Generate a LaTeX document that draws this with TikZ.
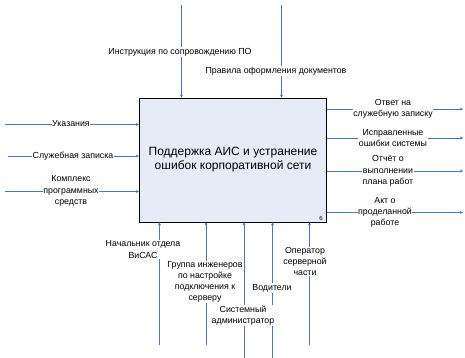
\documentclass[tikz,border=0pt]{standalone}
\usepackage{fontspec}
\setmainfont{Liberation Sans}
\usetikzlibrary{arrows.meta}
\definecolor{arrowblue}{HTML}{4A76C0}
\definecolor{boxfill}{HTML}{E6ECF7}
\begin{document}
\begin{tikzpicture}[x=1pt,y=-1pt,
  conn/.style={draw=arrowblue,line width=0.7pt,-{Stealth[length=3pt,width=3pt]}},
  lbl/.style={fill=white,inner sep=0.6pt,align=center,font=\fontsize{8.8}{11.2}\selectfont},
  mainbox/.style={draw=black,fill=boxfill,line width=0.8pt,minimum width=187.5pt,minimum height=124pt,align=center,inner sep=0pt,font=\fontsize{12}{14}\selectfont}]
\useasboundingbox (0,0) rectangle (465,358);
\node[mainbox] (box) at (233,160) {Поддержка АИС и устранение\\ошибок корпоративной сети};
\node[font=\fontsize{6}{6}\selectfont,inner sep=0pt] (num) at (321,218) {6};
% free ends
\coordinate (t1) at (181.5,5);
\coordinate (t2) at (281.5,5);
\coordinate (i1) at (5,124.5);
\coordinate (i2) at (8,156);
\coordinate (i3) at (5,191.5);
\coordinate (o1) at (463,109);
\coordinate (o2) at (463,138);
\coordinate (o3) at (463,171);
\coordinate (o4) at (463,212.5);
\coordinate (m1) at (159.5,345);
\coordinate (m2) at (206,345);
\coordinate (m3) at (244,358);
\coordinate (m4) at (272.5,358);
\coordinate (m5) at (309.5,345);
% controls
\draw[conn] (t1) -- (t1 |- box.north);
\draw[conn] (t2) -- (t2 |- box.north);
% inputs
\draw[conn] (i1) -- (i1 -| box.west);
\draw[conn] (i2) -- (i2 -| box.west);
\draw[conn] (i3) -- (i3 -| box.west);
% outputs
\draw[conn] (o1 -| box.east) -- (o1);
\draw[conn] (o2 -| box.east) -- (o2);
\draw[conn] (o3 -| box.east) -- (o3);
\draw[conn] (o4 -| box.east) -- (o4);
% mechanisms
\draw[conn] (m1) -- (m1 |- box.south);
\draw[conn] (m2) -- (m2 |- box.south);
\draw[conn] (m3) -- (m3 |- box.south);
\draw[conn] (m4) -- (m4 |- box.south);
\draw[conn] (m5) -- (m5 |- box.south);
% labels
\node[lbl] (lt1) at (180,52) {Инструкция по сопровождению ПО};
\node[lbl] (lt2) at (276,71) {Правила оформления документов};
\node[lbl] (li1) at (71,124) {Указания};
\node[lbl] (li2) at (73,156) {Служебная записка};
\node[lbl] (li3) at (71,191) {Комплекс\\программных\\средств};
\node[lbl] (lo1) at (393,109) {Ответ на\\служебную записку};
\node[lbl] (lo2) at (393,138) {Исправленные\\ошибки системы};
\node[lbl] (lo3) at (388,171) {Отчёт о\\выполнении\\плана работ};
\node[lbl] (lo4) at (385,212.5) {Акт о\\проделанной\\работе};
\node[lbl] (lm1) at (143,249.5) {Начальник отдела\\ВиСАС};
\node[lbl] (lm2) at (205,282) {Группа инженеров\\по настройке\\подключения к\\серверу};
\node[lbl] (lm3) at (243,315.5) {Системный\\администратор};
\node[lbl] (lm4) at (272,288) {Водители};
\node[lbl] (lm5) at (305,261.5) {Оператор\\серверной\\части};
\end{tikzpicture}
\end{document}
